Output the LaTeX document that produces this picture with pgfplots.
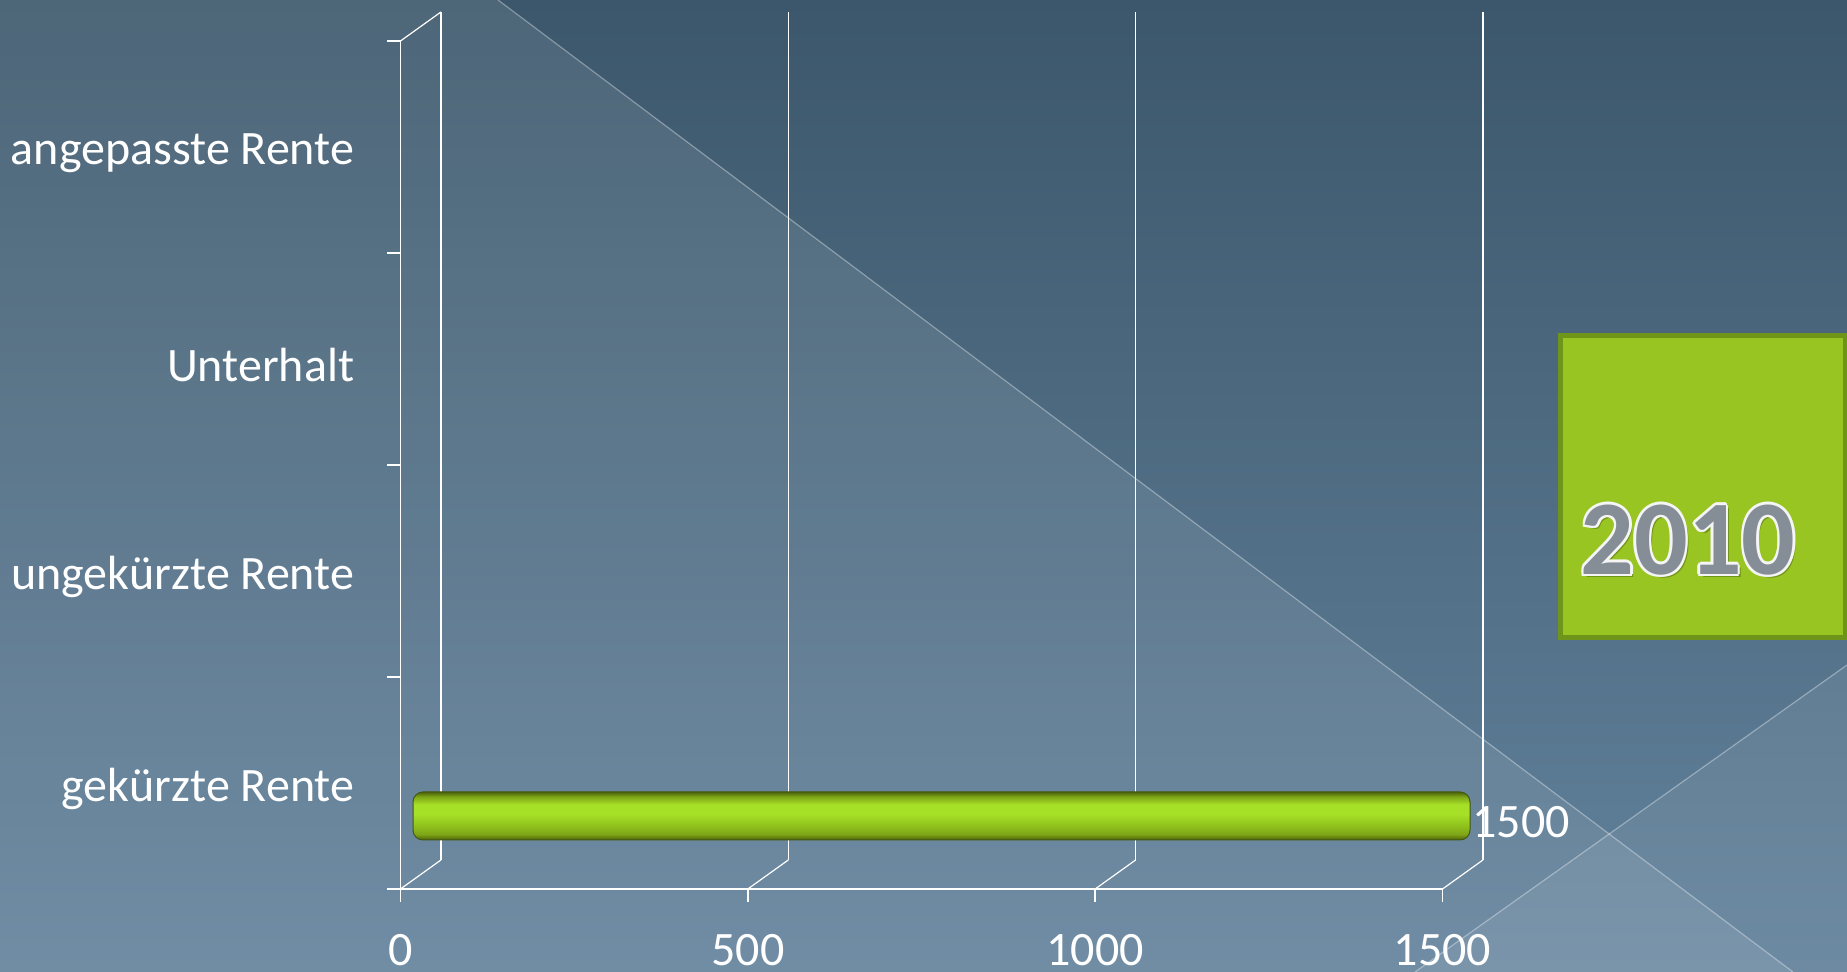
\documentclass[border=0pt]{standalone}
\usepackage{pgfplots}
\pgfplotsset{compat=1.18}
\usepackage{fontspec}
\setmainfont{Carlito}
\definecolor{bgtop}{HTML}{3C576B}
\definecolor{bgbot}{HTML}{62829C}
\definecolor{boxfill}{HTML}{98C521}
\definecolor{boxline}{HTML}{6E9419}
\definecolor{yeargray}{HTML}{858E97}
\definecolor{cylA}{HTML}{4A630B}
\definecolor{cylB}{HTML}{7FA617}
\definecolor{cylC}{HTML}{A6E027}
\definecolor{cylD}{HTML}{93C81E}
\definecolor{cylEdge}{HTML}{45590E}
\pgfdeclareverticalshading{cyl}{100bp}{color(0bp)=(cylA); color(25bp)=(cylA); color(31bp)=(cylB); color(42bp)=(cylD); color(52bp)=(cylC); color(62bp)=(cylC); color(70bp)=(cylB); color(75bp)=(cylA); color(100bp)=(cylA)}
\pgfkeys{/pgf/number format/.cd,1000 sep={},assume math mode=true}
\newcommand{\lblfont}{\fontsize{24}{28}\selectfont}
\begin{document}
\begin{tikzpicture}[x=0.5pt,y=0.5pt]
\useasboundingbox (0,0) rectangle (1847,972);
\begin{scope}
\clip (0,0) rectangle (1847,972);
\fill[top color=bgtop, bottom color=bgbot] (0,0) rectangle (1847,972);
\fill[white, opacity=0.09] (0,972) -- (498,972) -- (1793,0) -- (0,0) -- cycle;
\fill[white, opacity=0.07] (1415,0) -- (1847,307) -- (1847,0) -- cycle;
\draw[white, opacity=0.35, line width=0.6pt] (498,972) -- (1793,0);
\draw[white, opacity=0.35, line width=0.6pt] (1415,0) -- (1847,307);
\end{scope}

\begin{axis}[
  at={(200.25pt,41.5pt)}, anchor=south west,
  scale only axis, width=521pt, height=424pt,
  xmin=0, xmax=1500, ymin=0.5, ymax=4.5,
  clip=false,
  axis x line*=bottom, axis y line*=left,
  axis line style={white, line width=0.8pt, -},
  every tick/.style={white, line width=0.8pt},
  tick align=outside,
  major tick length=6.5pt,
  xtick={0,500,1000,1500},
  ytick={0.5,1.5,2.5,3.5,4.5},
  yticklabels={},
  extra y ticks={1,2,3,4},
  extra y tick labels={gekürzte Rente, ungekürzte Rente, Unterhalt, angepasste Rente},
  extra y tick style={major tick length=0pt},
  /pgf/number format/assume math mode=true,
  ticklabel style={white, font=\lblfont},
  yticklabel style={anchor=east, inner sep=0pt, xshift=-23pt, yshift=-3pt},
  xticklabel style={anchor=base, inner sep=0pt, yshift=-32pt},
]
% back wall grid lines
\addplot[white, line width=0.6pt] coordinates {(58.3,0.637) (58.3,4.637)};
\addplot[white, line width=0.6pt] coordinates {(558.3,0.637) (558.3,4.637)};
\addplot[white, line width=0.6pt] coordinates {(1058.3,0.637) (1058.3,4.637)};
\addplot[white, line width=0.6pt] coordinates {(1558.3,0.637) (1558.3,4.637)};
% floor diagonals
\addplot[white, line width=0.6pt] coordinates {(0,0.5) (58.3,0.637)};
\addplot[white, line width=0.6pt] coordinates {(500,0.5) (558.3,0.637)};
\addplot[white, line width=0.6pt] coordinates {(1000,0.5) (1058.3,0.637)};
\addplot[white, line width=0.6pt] coordinates {(1500,0.5) (1558.3,0.637)};
\addplot[white, line width=0.6pt] coordinates {(0,4.5) (58.3,4.637)};
\end{axis}

\begin{axis}[
  at={(206.5pt,25pt)}, anchor=south west,
  scale only axis, width=528.5pt, height=424pt,
  xmin=0, xmax=1500, ymin=0.5, ymax=4.5,
  hide axis, clip=false,
  /pgf/number format/assume math mode=true,
]
\addplot[xbar, bar width=24pt, shade, shading=cyl, draw=cylEdge, line width=0.5pt,
  rounded corners=5pt, point meta=x, nodes near coords,
  nodes near coords style={white, font=\lblfont, anchor=base west, inner sep=0pt, xshift=1pt, yshift=-11pt}]
  coordinates {(1500,1)};
\end{axis}

\begin{scope}
\clip (0,0) rectangle (1847,972);
\draw[boxline, line width=2.5pt, fill=boxfill] (1560,636) rectangle (1845,334);
\node[font=\fontsize{53}{60}\bfseries, text=black, opacity=0.25] at (1691,429) {2010};
\foreach \dx/\dy in {2.5/0,-2.5/0,0/2.5,0/-2.5,1.8/1.8,1.8/-1.8,-1.8/1.8,-1.8/-1.8}{
  \node[font=\fontsize{53}{60}\bfseries, text=white!92!gray] at (1688+\dx,432+\dy) {2010};
}
\node[font=\fontsize{53}{60}\bfseries, text=yeargray] at (1688,432) {2010};
\end{scope}
\end{tikzpicture}
\end{document}
